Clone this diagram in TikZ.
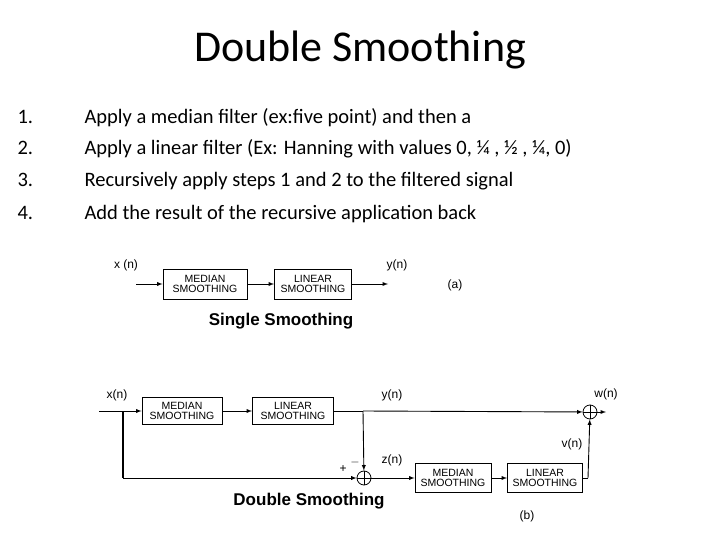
\documentclass[tikz,border=0pt]{standalone}
\usepackage{fontspec}
\setmainfont{Carlito}
\newfontfamily\arial{Liberation Sans}
\begin{document}
\begin{tikzpicture}[x=1pt,y=-1pt,
  blk/.style={draw,line width=0.9pt,align=center,font=\arial\fontsize{10.5}{9.5}\selectfont,inner sep=1pt},
  sig/.style={font=\arial\fontsize{12}{12}\selectfont},
  sumc/.style={draw,circle,minimum size=14pt,inner sep=0pt,line width=0.8pt},
  ln/.style={line width=0.9pt},
  arr/.style={ln,-latex}]
\useasboundingbox (0,0) rectangle (720,540);
\node (title) at (360,50) {\fontsize{44}{44}\selectfont Double Smoothing};
\foreach \n/\y/\t in {1/124/{Apply a median filter (ex:five point) and then a},
  2/155/{Apply a linear filter (Ex: Hanning with values 0, ¼ , ½ , ¼, 0)},
  3/187/{Recursively apply steps 1 and 2 to the filtered signal},
  4/219/{Add the result of the recursive application back}}{
  \node[anchor=base west,font=\fontsize{20.5}{20}\selectfont] (n\n) at (14,\y) {\n.};
  \node[anchor=base west,font=\fontsize{20.5}{20}\selectfont] (t\n) at (81,\y) {\t};
}
% single
\node[blk,minimum width=84pt,minimum height=30pt] (m1) at (205,284) {MEDIAN\\SMOOTHING};
\node[blk,minimum width=77pt,minimum height=30pt] (l1) at (313,284) {LINEAR\\SMOOTHING};
\coordinate (s1) at (136,284);
\coordinate (e1) at (388,284);
\draw[arr] (s1) -- (m1);
\draw[arr] (m1) -- (l1);
\draw[arr] (l1) -- (e1);
\node[sig] (xa) at (126,265) {x (n)};
\node[sig] (ya) at (397,265) {y(n)};
\node[sig] (a) at (455,285) {(a)};
\node[font=\arial\bfseries\fontsize{17}{17}\selectfont] (ss) at (281,321) {Single Smoothing};
% double
\node[blk,minimum width=80pt,minimum height=27pt] (m2) at (182,411) {MEDIAN\\SMOOTHING};
\node[blk,minimum width=81pt,minimum height=27pt] (l2) at (293,411) {LINEAR\\SMOOTHING};
\node[sumc] (sa) at (590,412) {};
\draw (sa.north) -- (sa.south) (sa.west) -- (sa.east);
\node[sumc] (sb) at (364,478) {};
\draw (sb.north) -- (sb.south) (sb.west) -- (sb.east);
\node[blk,minimum width=76pt,minimum height=29pt] (m3) at (453,478) {MEDIAN\\SMOOTHING};
\node[blk,minimum width=75pt,minimum height=29pt] (l3) at (545,478) {LINEAR\\SMOOTHING};
\coordinate (s2) at (99,411);
\coordinate (j0) at (123,411);
\coordinate (j0b) at (123,478);
\coordinate (j1) at (363,411);
\coordinate (c3) at (588,478);
\coordinate (e2) at (606,412);
\draw[ln] (s2) -- (j0);
\draw[arr] (j0) -- (m2);
\draw[arr] (m2) -- (l2);
\draw[ln] (l2) -- (j1);
\draw[arr] (j1) -- (sa);
\draw[arr] (j1) -- (sb);
\draw[ln,line width=1.3pt] (j0) -- (j0b);
\draw[arr] (j0b) -- (sb);
\draw[arr] (sb) -- (m3);
\draw[arr] (m3) -- (l3);
\draw[ln] (l3) -- (c3);
\draw[arr] (c3) -- (sa);
\draw[arr] (sa) -- (e2);
\node[sig] (xb) at (117,395) {x(n)};
\node[sig] (yb) at (392,395) {y(n)};
\node[sig] (zb) at (392,460) {z(n)};
\node[sig] (vb) at (572,444) {v(n)};
\node[sig] (wb) at (606,394) {w(n)};
\node[sig] (pl) at (343,469) {+};
\node[sig] (mi) at (355,462) {$-$};
\node[font=\arial\bfseries\fontsize{17}{17}\selectfont] (ds) at (309,501) {Double Smoothing};
\node[sig] (b) at (527,516) {(b)};
\end{tikzpicture}
\end{document}
